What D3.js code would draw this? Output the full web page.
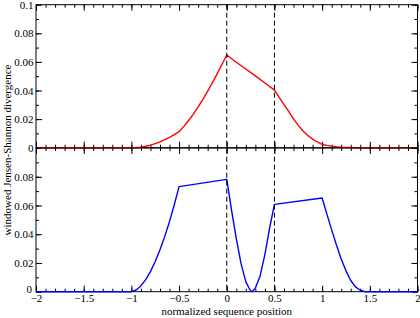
<!DOCTYPE html>
<html>
<head>
<meta charset="utf-8">
<script src="https://cdn.jsdelivr.net/npm/d3@7.9.0/dist/d3.min.js"></script>
<style>
  body { margin: 0; background: #fff; }
  svg { display: block; font-family: "Liberation Serif", "Times New Roman", serif; }
</style>
</head>
<body>
<svg id="chart" width="420" height="318"></svg>
<script>
// positions along the sequence (normalized)
const redX = [-2, -1, -0.95, -0.9, -0.85, -0.8, -0.75, -0.7, -0.65, -0.6, -0.55, -0.5,
  -0.45, -0.4, -0.35, -0.3, -0.25, -0.2, -0.15, -0.1, -0.05, 0,
  0.1, 0.2, 0.3, 0.4, 0.5,
  0.55, 0.6, 0.65, 0.7, 0.75, 0.8, 0.85, 0.9, 0.95, 1,
  1.05, 1.1, 1.15, 1.2, 1.25, 1.3, 1.35, 2];
const redY = [0, 0, 0.0001, 0.0004, 0.001, 0.0018, 0.0028, 0.0041, 0.0056, 0.0072, 0.0091, 0.0112,
  0.0149, 0.019, 0.0235, 0.0285, 0.0338, 0.0395, 0.0455, 0.0518, 0.0582, 0.0648,
  0.0598, 0.055, 0.0502, 0.0452, 0.0403,
  0.0352, 0.0302, 0.0254, 0.0202, 0.0156, 0.0117, 0.0085, 0.006, 0.004, 0.0024,
  0.0016, 0.0011, 0.0007, 0.0004, 0.0002, 0.0001, 0, 0];

const blueX = [-2, -1, -0.95, -0.9, -0.85, -0.8, -0.75, -0.7, -0.65, -0.6, -0.55, -0.5,
  0, 0.05, 0.1, 0.15, 0.2, 0.25, 0.265, 0.3, 0.35, 0.4, 0.45, 0.5,
  1, 1.05, 1.1, 1.15, 1.2, 1.25, 1.3, 1.35, 1.4, 1.45, 2];
const blueY = [0, 0, 0.0012, 0.004, 0.0084, 0.014, 0.021, 0.0292, 0.0385, 0.0489, 0.0605, 0.0731,
  0.0782, 0.057, 0.037, 0.0195, 0.0068, 0.0005, 0, 0.0025, 0.011, 0.026, 0.0445, 0.0608,
  0.0652, 0.054, 0.043, 0.0325, 0.0228, 0.0145, 0.0078, 0.0034, 0.001, 0, 0];

const markers = [0, 0.5];
const topYTicks = [0, 0.02, 0.04, 0.06, 0.08, 0.1];
const bottomYTicks = [0, 0.02, 0.04, 0.06, 0.08];
const xTicks = [-2, -1.5, -1, -0.5, 0, 0.5, 1, 1.5, 2];

const red = redX.map((x, i) => ({ x, y: redY[i] }));
const blue = blueX.map((x, i) => ({ x, y: blueY[i] }));

const svg = d3.select('#chart');
const left = 36, right = 417.5;
const panels = [
  { top: 4.7, bottom: 147.7, data: red, color: '#ff0000', yTicks: topYTicks, xLabels: false },
  { top: 148, bottom: 291.7, data: blue, color: '#0000ff', yTicks: bottomYTicks, xLabels: true },
];

const xScale = d3.scaleLinear().domain([-2, 2]).range([left, right]);
const fmt = d3.format('~g');
const minorX = d3.range(-20, 21).map(d => d / 10);
const minorY = d3.range(0, 11).map(d => d / 100);

panels.forEach(p => {
  const yScale = d3.scaleLinear().domain([0, 0.1]).range([p.bottom, p.top]);
  const g = svg.append('g');

  // minor ticks, all four sides, pointing inwards
  g.append('g').attr('transform', `translate(0,${p.bottom})`)
    .call(d3.axisBottom(xScale).tickValues(minorX).tickSize(-3).tickFormat(''));
  g.append('g').attr('transform', `translate(0,${p.top})`)
    .call(d3.axisTop(xScale).tickValues(minorX).tickSize(-3).tickFormat(''));
  g.append('g').attr('transform', `translate(${left},0)`)
    .call(d3.axisLeft(yScale).tickValues(minorY).tickSize(-3).tickFormat(''));
  g.append('g').attr('transform', `translate(${right},0)`)
    .call(d3.axisRight(yScale).tickValues(minorY).tickSize(-3).tickFormat(''));

  // major ticks
  g.append('g').attr('class', 'xaxis').attr('transform', `translate(0,${p.bottom})`)
    .call(d3.axisBottom(xScale).tickValues(xTicks).tickSize(-6).tickPadding(2)
      .tickFormat(p.xLabels ? fmt : ''));
  g.append('g').attr('transform', `translate(0,${p.top})`)
    .call(d3.axisTop(xScale).tickValues(xTicks).tickSize(-6).tickFormat(''));
  g.append('g').attr('class', 'yaxis').attr('transform', `translate(${left},0)`)
    .call(d3.axisLeft(yScale).tickValues(p.yTicks).tickSize(-6).tickPadding(2.5).tickFormat(fmt));
  g.append('g').attr('transform', `translate(${right},0)`)
    .call(d3.axisRight(yScale).tickValues(topYTicks).tickSize(-6).tickFormat(''));

  g.selectAll('.domain').remove();
  g.selectAll('.tick line').attr('stroke', '#000');
  g.selectAll('.tick text').attr('fill', '#000').style('font-size', '11px')
    .style('font-family', '"Liberation Serif", serif');

  // lowest y label of the bottom panel sits just above the x labels
  if (p.xLabels) {
    g.selectAll('.yaxis .tick text').filter(d => d === 0)
      .attr('dy', '0.1em').attr('x', -4);
  }

  // frame
  g.append('rect')
    .attr('x', left).attr('y', p.top)
    .attr('width', right - left).attr('height', p.bottom - p.top)
    .attr('fill', 'none').attr('stroke', '#000').attr('stroke-width', 1);

  const line = d3.line().x(d => xScale(d.x)).y(d => yScale(d.y));
  g.append('path').datum(p.data)
    .attr('d', line)
    .attr('fill', 'none')
    .attr('stroke', p.color)
    .attr('stroke-width', 1.4)
    .attr('stroke-linejoin', 'round');
});

// dashed vertical markers across both panels
svg.append('g').selectAll('line').data(markers).join('line')
  .attr('x1', d => xScale(d)).attr('x2', d => xScale(d))
  .attr('y1', panels[0].top).attr('y2', panels[1].bottom)
  .attr('stroke', '#000').attr('stroke-width', 1)
  .attr('stroke-dasharray', '5,3');

svg.append('text')
  .attr('x', (left + right) / 2).attr('y', 314.5)
  .attr('text-anchor', 'middle')
  .style('font-size', '11px')
  .text('normalized sequence position');

svg.append('text')
  .attr('transform', `translate(10.5,150) rotate(-90)`)
  .attr('text-anchor', 'middle')
  .style('font-size', '11px')
  .text('windowed Jensen-Shannon divergence');
</script>
</body>
</html>
